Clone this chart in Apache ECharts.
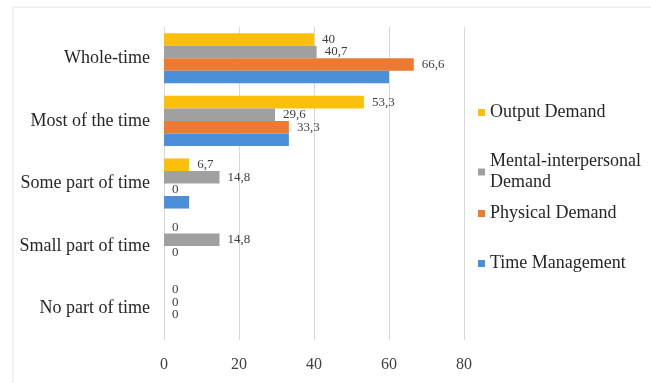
<!DOCTYPE html>
<html><head><meta charset="utf-8">
<script src="https://cdn.jsdelivr.net/npm/echarts@6/dist/echarts.min.js"></script>
<style>html,body{margin:0;padding:0;background:#fff}#c{width:651px;height:383px}</style>
</head><body><div id="c"></div>
<script>
var categories = ['No part of time','Small part of time','Some part of time','Most of the time','Whole-time'];
var timeManagement = [0, 0, 6.7, 33.3, 60];
var physicalDemand = [0, 0, 0, 33.3, 66.6];
var mentalDemand = [0, 14.8, 14.8, 29.6, 40.7];
var outputDemand = [0, 0, 6.7, 53.3, 40];
var xTicks = [0, 20, 40, 60, 80];

var serif = '"Liberation Serif", "DejaVu Serif", serif';
function fmt(p){ return String(p.value).replace('.', ','); }
function lbl(show){
  return {show: show, position: 'right', distance: 8, formatter: fmt,
    fontFamily: serif, fontSize: 13, color: '#404040'};
}
var chart = echarts.init(document.getElementById('c'));
function legendAt(name, top){
  return {data:[name], orient:'vertical', left: 473, top: top, itemWidth: 7, itemHeight: 7,
    icon:'rect', itemGap: 0,
    textStyle:{fontFamily: serif, fontSize: 18, color:'#262626', lineHeight: 21}};
}
chart.setOption({
  animation: false,
  graphic: [
    {type:'line', shape:{x1:13,y1:7,x2:651,y2:7}, style:{stroke:'#e4e4e4', lineWidth:1}},
    {type:'line', shape:{x1:13,y1:7,x2:13,y2:383}, style:{stroke:'#e4e4e4', lineWidth:1}}
  ],
  legend: [
    legendAt('Output Demand', 97),
    legendAt('Mental-interpersonal\nDemand', 146),
    legendAt('Physical Demand', 198),
    legendAt('Time Management', 248)
  ],
  grid: {left: 164, right: 187, top: 27, bottom: 43},
  xAxis: {type:'value', min: xTicks[0], max: xTicks[xTicks.length-1], interval: 20,
    axisLine:{show:false}, axisTick:{show:false},
    splitLine:{lineStyle:{color:'#d9d9d9'}},
    axisLabel:{fontFamily: serif, fontSize: 16, color:'#404040', margin: 17}},
  yAxis: {type:'category', data: categories,
    axisLine:{show:false}, axisTick:{show:false},
    axisLabel:{fontFamily: serif, fontSize: 18, color:'#262626', margin: 14}},
  series: [
    {name:'Output Demand', type:'bar', data: outputDemand, itemStyle:{color:'#fbbf0c'}, label: lbl(true), barGap: '0%', barCategoryGap: '20%'},
    {name:'Mental-interpersonal\nDemand', type:'bar', data: mentalDemand, itemStyle:{color:'#a0a0a0'}, label: lbl(true)},
    {name:'Physical Demand', type:'bar', data: physicalDemand, itemStyle:{color:'#ed7a31'}, label: lbl(true)},
    {name:'Time Management', type:'bar', data: timeManagement, itemStyle:{color:'#4a8fd8'}, label: lbl(false)}
  ]
});
</script></body></html>
